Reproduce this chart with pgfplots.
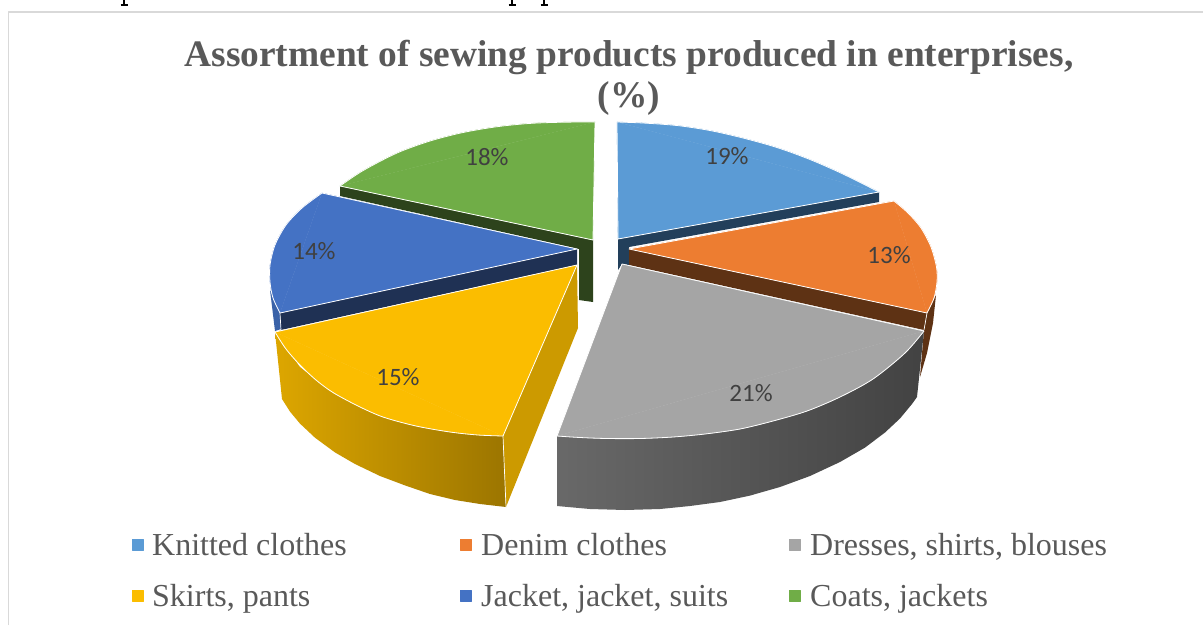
\documentclass[border=0pt]{standalone}
\usepackage{pgfplots}
\usepackage{pgfplotstable}
\usepackage{fontspec}
\pgfplotsset{compat=1.18}
\setmainfont{Liberation Serif}
\newfontfamily\labelfont{Carlito}

\definecolor{knit}{HTML}{5B9BD5}
\definecolor{knitside}{HTML}{223F5B}
\definecolor{denim}{HTML}{ED7D31}
\definecolor{denimside}{HTML}{5E3214}
\definecolor{dress}{HTML}{A5A5A5}
\definecolor{skirt}{HTML}{FBBD00}
\definecolor{skirtcut}{HTML}{CC9A00}
\definecolor{jacket}{HTML}{4472C4}
\definecolor{jacketside}{HTML}{1F3154}
\definecolor{jacketrim}{HTML}{3A62A8}
\definecolor{coat}{HTML}{70AD47}
\definecolor{coatside}{HTML}{2D431C}
\definecolor{titlegrey}{HTML}{595959}
\definecolor{framegrey}{HTML}{D9D9D9}
\definecolor{valuegrey}{HTML}{404040}

% Outer rims of the six top faces
\pgfplotstableread{
x y
340 186
363 170.6
397 153
430 141
463 132.5
497 126.7
530 123.4
563 122.2
595 122
}\rimCoat
\pgfplotstableread{
x y
322 193
302 208
286 225
275 245
270 265
270 282
273 298
280 313
}\rimJacket
\pgfplotstableread{
x y
275 332
286 349
300 365
316 380
333 392.5
358 406
383 417
416 426
450 432
478 435
503 436
}\rimSkirt
\pgfplotstableread{
x y
924 331
905 353
873 379
840 397
807 411
773 421
740 429
705 434
673 437
640 438.5
607 438.5
580 437.5
557 436
}\rimDress
\pgfplotstableread{
x y
894 201
908 213
921 228
931 247
936.5 267
937 282
934 298
927 313
}\rimDenim
\pgfplotstableread{
x y
617 122
643 123
677 125.5
710 130.5
743 138
777 147.5
810 159.5
843 174
879 192
}\rimKnit

\newcommand{\topface}[4]{%
  % wedge plus the curved cap above its chord, then the pale outline
  \addplot[fill=#1, draw=#1, line width=0.4pt] coordinates {#2};
  \addplot[fill=#1, draw=#1, line width=0.4pt, smooth] table {#3};
  \addplot[draw=white, line width=0.8pt, smooth] table {#3};
  \addplot[draw=white, line width=0.8pt] coordinates {#4};
}
\newcommand{\valuefont}{\labelfont\fontsize{25}{25}\selectfont}
\newcommand{\keyfont}{\fontsize{32}{32}\selectfont}
\newcommand{\titlefont}{\bfseries\fontsize{37.4}{38}\selectfont}

\begin{document}
\begin{tikzpicture}
\begin{axis}[
  width=1203pt, height=625pt, scale only axis,
  xmin=0, xmax=1203, ymin=0, ymax=625, y dir=reverse,
  axis lines=none, clip=true,
  every axis plot/.append style={line join=round},
]
% page ground and chart frame
\addplot[fill=white, draw=none] coordinates {(0,0) (1203,0) (1203,625) (0,625)} --cycle;
\addplot[draw=framegrey, line width=1.5pt] coordinates {(8.5,625) (8.5,12) (1203,12)};
% feet of the letters of the running text above the frame
\addplot[draw=black, line width=2pt] coordinates {(124,0) (124,4)};
\addplot[draw=black, line width=1.2pt] coordinates {(120.5,5) (127.5,5)};
\addplot[draw=black, line width=2pt] coordinates {(512,0) (512,4)};
\addplot[draw=black, line width=1.2pt] coordinates {(508.5,5) (515.5,5)};
\addplot[draw=black, line width=2pt] coordinates {(544,0) (544,4)};
\addplot[draw=black, line width=1.2pt] coordinates {(540.5,5) (547.5,5)};

% Coats, jackets: 18
\addplot[fill=coatside, draw=none] coordinates {(340,186) (593,240) (593,302) (579,300) (579,249) (340,196)} --cycle;
\topface{coat}{(593,240) (340,186) (595,122)}{\rimCoat}{(340,186) (593,240) (595,122)}

% Knitted clothes: 19
\addplot[fill=knitside, draw=none] coordinates {(618,239) (879,192) (879,202) (629,247) (629,265) (622,264) (618,270)} --cycle;
\topface{knit}{(618,239) (617,122) (879,192)}{\rimKnit}{(617,122) (618,239) (879,192)}

% Jacket, jacket, suits: 14
\addplot[fill=jacketrim, draw=none] coordinates {(270,290) (275,331) (281,329) (280,313)} --cycle;
\addplot[fill=jacketside, draw=none] coordinates {(280,313) (577,249) (577,265) (281,330)} --cycle;
\addplot[draw=white, line width=0.7pt] coordinates {(280,313) (281,330)};
\topface{jacket}{(577,249) (322,193) (280,313)}{\rimJacket}{(322,193) (577,249) (280,313)}

% Denim clothes: 13
\addplot[fill=denimside, draw=none] coordinates {(936,295) (933,323) (927,353) (920,377) (924,330) (927,313)} --cycle;
\addplot[fill=denimside, draw=none] coordinates {(629,249) (927,313) (924,330) (629,265)} --cycle;
\addplot[draw=white, line width=0.7pt] coordinates {(927,313) (924,330)};
\topface{denim}{(629,249) (894,201) (927,313)}{\rimDenim}{(894,201) (629,249) (927,313)}

% Skirts, pants: 15
\addplot[fill=skirtcut, draw=none] coordinates {(503,436) (577,265) (578,328) (506,507)} --cycle;
\addplot[left color=skirt!88!black, right color=skirt!62!black, draw=none] coordinates {
  (275,332) (282,399) (290,411.6) (300,423.6) (315,437.7) (335,452.4) (355,464) (380,476)
  (405,485.4) (430,494) (455,500) (480,504) (506,507) (503,436) (450,432) (383,417) (333,393) (300,367)} --cycle;
\addplot[draw=white, line width=0.7pt] coordinates {(503,436) (506,507)};
\topface{skirt}{(577,265) (275,332) (503,436)}{\rimSkirt}{(275,332) (577,265) (503,436)}

% Dresses, shirts, blouses: 21
\addplot[left color=black!59, middle color=black!72, right color=black!74, draw=none] coordinates {
  (557,436) (557,506) (590,509) (625,510) (660,509) (690,506) (720,502) (750,495.6) (780,487)
  (810,476) (840,462) (865,447.6) (885,432.5) (900,418.5) (912,404) (917,397) (924,331)
  (873,379) (807,411) (740,429) (673,437) (607,438.5)} --cycle;
\topface{dress}{(622,264) (924,331) (557,436)}{\rimDress}{(924,331) (622,264) (557,436)}

% Values on the faces
\node[text=valuegrey, font=\valuefont] at (axis cs:727,156) {19\%};
\node[text=valuegrey, font=\valuefont] at (axis cs:889,255) {13\%};
\node[text=valuegrey, font=\valuefont] at (axis cs:751,393) {21\%};
\node[text=valuegrey, font=\valuefont] at (axis cs:398,377) {15\%};
\node[text=valuegrey, font=\valuefont] at (axis cs:314,251) {14\%};
\node[text=valuegrey, font=\valuefont] at (axis cs:487,157) {18\%};

% Title
\node[anchor=base, text=titlegrey, font=\titlefont] at (axis cs:629,66) {Assortment of sewing products produced in enterprises,};
\node[anchor=base, text=titlegrey, font=\titlefont] at (axis cs:629,107) {(\%)};

% Key
\addplot[only marks, mark=square*, mark size=5.2pt, mark options={draw=knit, fill=knit}] coordinates {(137.5,544.5)};
\addplot[only marks, mark=square*, mark size=5.2pt, mark options={draw=denim, fill=denim}] coordinates {(465.5,544.5)};
\addplot[only marks, mark=square*, mark size=5.2pt, mark options={draw=dress, fill=dress}] coordinates {(794.5,544.5)};
\addplot[only marks, mark=square*, mark size=5.2pt, mark options={draw=skirt, fill=skirt}] coordinates {(137.5,595.5)};
\addplot[only marks, mark=square*, mark size=5.2pt, mark options={draw=jacket, fill=jacket}] coordinates {(465.5,595.5)};
\addplot[only marks, mark=square*, mark size=5.2pt, mark options={draw=coat, fill=coat}] coordinates {(794.5,595.5)};
\node[anchor=base west, inner sep=0pt, text=titlegrey, font=\keyfont] at (axis cs:152,555) {Knitted clothes};
\node[anchor=base west, inner sep=0pt, text=titlegrey, font=\keyfont] at (axis cs:481,555) {Denim clothes};
\node[anchor=base west, inner sep=0pt, text=titlegrey, font=\keyfont] at (axis cs:810,555) {Dresses, shirts, blouses};
\node[anchor=base west, inner sep=0pt, text=titlegrey, font=\keyfont] at (axis cs:152,606) {Skirts, pants};
\node[anchor=base west, inner sep=0pt, text=titlegrey, font=\keyfont] at (axis cs:481,606) {Jacket, jacket, suits};
\node[anchor=base west, inner sep=0pt, text=titlegrey, font=\keyfont] at (axis cs:810,606) {Coats, jackets};
\end{axis}
\end{tikzpicture}
\end{document}
